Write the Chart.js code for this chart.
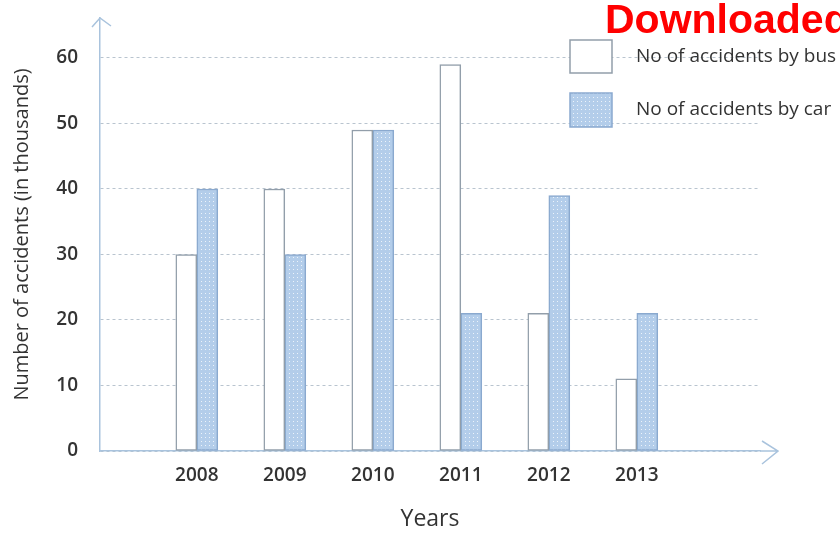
<!DOCTYPE html>
<html>
<head>
<meta charset="utf-8">
<script src="https://cdn.jsdelivr.net/npm/chart.js@4.4.1/dist/chart.umd.min.js"></script>
<style>
  html,body{margin:0;padding:0;background:#fff;}
  #wrap{position:relative;width:840px;height:537px;overflow:hidden;}
  #wm{position:absolute;left:605px;top:-4px;font:bold 41px "Liberation Sans",Arial,sans-serif;color:#ff0000;white-space:nowrap;}
</style>
</head>
<body>
<div id="wrap">
  <canvas id="c" width="840" height="537"></canvas>
  <div id="wm">Downloaded</div>
</div>
<script>
const years = [2008, 2009, 2010, 2011, 2012, 2013];
const busAccidents = [30, 40, 49, 59, 21, 11];
const carAccidents = [40, 30, 49, 21, 39, 21];
const yTickValues = [0, 10, 20, 30, 40, 50, 60];
const seriesLabels = ['No of accidents by bus', 'No of accidents by car'];

const FONT = '"Open Sans", sans-serif';

// dotted fill pattern for car bars
const pc = document.createElement('canvas');
pc.width = 4; pc.height = 4;
const px = pc.getContext('2d');
px.fillStyle = '#b3cdea';
px.fillRect(0, 0, 4, 4);
px.fillStyle = 'rgba(255,255,255,0.75)';
px.fillRect(1, 1, 1, 1);
const ctx = document.getElementById('c').getContext('2d');
const carPattern = ctx.createPattern(pc, 'repeat');

const busStyle = {fill: '#ffffff', border: '#929eaa'};
const carStyle = {fill: carPattern, border: '#8aa9cf'};

const decor = {
  id: 'decor',
  afterDraw(chart) {
    const c = chart.ctx;
    const a = chart.chartArea;
    const axisCol = '#a9c3dd';
    c.save();
    c.strokeStyle = axisCol;
    c.lineWidth = 1.5;
    c.beginPath();
    c.moveTo(a.right, a.bottom);
    c.lineTo(778, a.bottom);
    c.moveTo(762, a.bottom - 10);
    c.lineTo(778, a.bottom);
    c.lineTo(762, a.bottom + 13);
    c.moveTo(a.left - 8, a.top + 9);
    c.lineTo(a.left, a.top);
    c.lineTo(a.left + 11, a.top + 8);
    c.stroke();
    const boxes = [
      {y: 40, h: 33, s: busStyle, t: chart.data.datasets[0].label},
      {y: 93, h: 34, s: carStyle, t: chart.data.datasets[1].label}
    ];
    boxes.forEach(b => {
      c.fillStyle = b.s.fill;
      c.fillRect(570, b.y, 42, b.h);
      c.strokeStyle = b.s.border;
      c.lineWidth = 1.5;
      c.strokeRect(570, b.y, 42, b.h);
      c.fillStyle = '#333';
      c.font = '19px ' + FONT;
      c.textBaseline = 'middle';
      c.textAlign = 'left';
      c.fillText(b.t, 636, b.y + b.h / 2);
    });
    c.restore();
  }
};

new Chart(ctx, {
  type: 'bar',
  data: {
    datasets: [
      {
        label: seriesLabels[0],
        data: years.map((y, i) => ({x: y, y: busAccidents[i]})),
        backgroundColor: busStyle.fill,
        borderColor: busStyle.border,
        borderWidth: 1.5,
        borderSkipped: false,
        barThickness: 21
      },
      {
        label: seriesLabels[1],
        data: years.map((y, i) => ({x: y, y: carAccidents[i]})),
        backgroundColor: carStyle.fill,
        borderColor: carStyle.border,
        borderWidth: 1.5,
        borderSkipped: false,
        barThickness: 21
      }
    ]
  },
  options: {
    responsive: false,
    animation: false,
    layout: {padding: {top: 18, right: 80, left: 0, bottom: 0}},
    plugins: {legend: {display: false}, tooltip: {enabled: false}},
    scales: {
      x: {
        type: 'linear',
        offset: false,
        min: 2006.9,
        max: 2014.4,
        afterBuildTicks: s => { s.ticks = years.map(v => ({value: v})); },
        afterFit: s => { s.height = 86; s.paddingLeft = 0; s.paddingRight = 0; },
        ticks: {
          callback: v => String(v),
          color: '#333',
          font: {family: FONT, size: 19, weight: '600'},
          padding: 13,
          maxRotation: 0
        },
        grid: {display: false, drawTicks: false},
        border: {color: '#a9c3dd', width: 1.5},
        title: {display: true, text: 'Years', color: '#333', font: {family: FONT, size: 23}, padding: {top: 10}}
      },
      y: {
        min: 0,
        max: 66.1,
        afterBuildTicks: s => { s.ticks = yTickValues.map(v => ({value: v})); },
        afterFit: s => { s.width = 100; s.paddingTop = 0; s.paddingBottom = 0; },
        ticks: {
          color: '#333',
          font: {family: FONT, size: 19, weight: '600'},
          padding: 22
        },
        grid: {color: '#b9c4cf', lineWidth: 1, drawTicks: false},
        border: {color: '#a9c3dd', width: 1.5, dash: [3, 3]},
        title: {display: true, text: 'Number of accidents (in thousands)', color: '#333', font: {family: FONT, size: 20}, padding: {top: 10}}
      }
    }
  },
  plugins: [decor]
});
</script>
</body>
</html>
